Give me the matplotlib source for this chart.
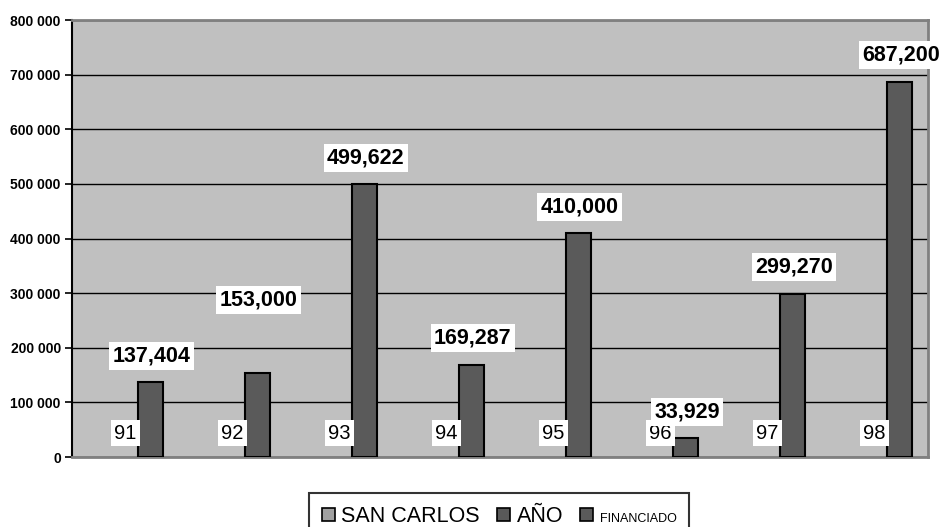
import matplotlib.pyplot as plt
import numpy as np
from matplotlib.patches import Patch
from matplotlib.ticker import FuncFormatter

plt.rcParams['font.family'] = ['Liberation Sans', 'DejaVu Sans']

# data
years = ['91', '92', '93', '94', '95', '96', '97', '98']
ano = [91, 92, 93, 94, 95, 96, 97, 98]
san_carlos = [0, 0, 0, 0, 0, 0, 0, 0]
financiado = [137404, 153000, 499622, 169287, 410000, 33929, 299270, 687200]
# extra lift (points) for labels that were moved by hand in the original
label_lift = [0, 34, 0, 0, 0, 0, 0, 0]

fig = plt.figure(figsize=(9.42, 5.27), dpi=100)
ax = fig.add_axes([0.0764, 0.1328, 0.9087, 0.8292])
ax.set_facecolor('#c0c0c0')

x = np.arange(len(years))
w = 0.2336

ax.bar(x - w, san_carlos, w, color='#a0a0a0', edgecolor='none', zorder=2)
ax.bar(x, ano, w, color='#595959', edgecolor='none', zorder=2)
ax.bar(x + w, financiado, w, color='#5a5a5a', edgecolor='black',
       linewidth=1.5, zorder=3)

box = dict(facecolor='white', edgecolor='none', pad=2.5)
for xi, lab, v in zip(x, years, ano):
    ax.annotate(lab, (xi, v), xytext=(0, 17), textcoords='offset points',
                ha='center', va='center', fontsize=14.5, bbox=box, zorder=4)
for xi, v, lift in zip(x, financiado, label_lift):
    ax.annotate(f'{v:,}', (xi + w, v), xytext=(1, 19 + lift),
                textcoords='offset points', ha='center', va='center',
                fontsize=15.5, fontweight='bold', bbox=box, zorder=5)

ax.set_xlim(-0.5, len(years) - 0.5)
ax.set_ylim(0, 800000)
ax.set_yticks(np.arange(0, 800001, 100000))
ax.yaxis.set_major_formatter(FuncFormatter(lambda v, p: f'{int(v):,}'.replace(',', ' ')))
ax.set_xticks([])
ax.grid(axis='y', color='black', linewidth=1, zorder=1)
ax.set_axisbelow(True)
ax.tick_params(axis='y', length=5, width=1.2, labelsize=10, pad=3)
for t in ax.get_yticklabels():
    t.set_fontweight('bold')

ax.spines['left'].set_color('black')
ax.spines['left'].set_linewidth(1.5)
for s in ['top', 'right', 'bottom']:
    ax.spines[s].set_color('#808080')
    ax.spines[s].set_linewidth(2)

handles = [Patch(facecolor='#a0a0a0', edgecolor='black', linewidth=1.2),
           Patch(facecolor='#595959', edgecolor='black', linewidth=1.2),
           Patch(facecolor='#5a5a5a', edgecolor='black', linewidth=1.2)]
leg = fig.legend(handles, ['SAN CARLOS', 'AÑO', 'FINANCIADO'], loc='upper center',
                 bbox_to_anchor=(0.53, 0.0645), borderaxespad=0, ncol=3,
                 fontsize=15.5, frameon=True, fancybox=False, edgecolor='black',
                 handlelength=0.6, handleheight=0.6, handletextpad=0.3,
                 columnspacing=0.8, borderpad=0.6)
leg.get_frame().set_linewidth(1.5)
leg.get_texts()[2].set_fontsize(9)

fig.savefig('out.png', dpi=100)
